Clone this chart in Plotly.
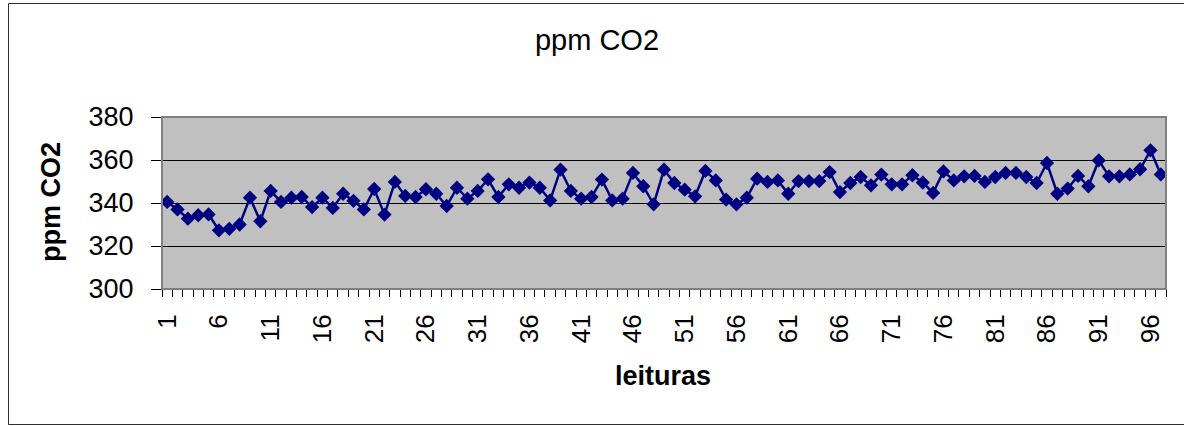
import plotly.graph_objects as go

leituras = list(range(1, 98))
ppm_co2 = [
    340.5, 337.0, 332.7, 334.3, 334.7, 327.3, 328.0, 330.0, 342.5, 331.5,
    345.6, 340.5, 342.5, 342.8, 338.1, 342.5, 337.7, 344.3, 341.0, 337.0,
    346.5, 334.6, 349.8, 343.3, 342.8, 346.4, 344.3, 338.6, 347.1, 342.0,
    345.6, 351.0, 342.8, 348.7, 347.1, 349.5, 347.1, 341.2, 355.5, 345.6,
    342.0, 342.8, 350.9, 341.2, 342.0, 354.0, 347.8, 339.4, 355.5, 349.3,
    346.2, 343.1, 354.9, 350.5, 341.6, 339.4, 342.5, 351.3, 349.8, 350.5,
    344.3, 350.2, 350.2, 350.2, 354.4, 345.1, 349.3, 352.1, 348.2, 353.2,
    348.7, 348.7, 352.9, 349.5, 344.7, 354.7, 350.5, 352.4, 352.6, 349.8,
    352.1, 354.0, 354.0, 352.1, 349.3, 358.6, 344.3, 346.7, 352.6, 347.8,
    359.8, 352.4, 352.4, 353.3, 355.7, 364.5, 353.3,
]
x_tick_vals = [1, 6, 11, 16, 21, 26, 31, 36, 41, 46, 51, 56, 61, 66, 71, 76, 81, 86, 91, 96]
x_tick_text = ["1", "6", "11", "16", "21", "26", "31", "36", "41", "46",
               "51", "56", "61", "66", "71", "76", "81", "86", "91", "96"]
y_tick_vals = [300, 320, 340, 360, 380]

W, H = 1184, 426
L, R, T, B = 162, 1166, 117, 289
pw, ph = R - L, B - T


def px(x):
    return (x - L) / pw


def py(y):
    return (B - y) / ph


fig = go.Figure()
fig.add_trace(go.Scatter(
    x=leituras, y=ppm_co2, mode="lines+markers",
    line=dict(color="#000080", width=2.5),
    marker=dict(symbol="diamond", size=11, color="#000080"),
    showlegend=False, hoverinfo="x+y",
))

fig.update_layout(
    width=W, height=H,
    margin=dict(l=L, r=W - R, t=T, b=H - B, pad=0),
    paper_bgcolor="white",
    plot_bgcolor="#C0C0C0",
    font=dict(family="Liberation Sans, Arial, sans-serif", color="black"),
    title=dict(text="ppm CO2", x=597 / W, xanchor="center", y=1 - 40 / H,
               yanchor="middle", font=dict(size=29, color="black")),
    xaxis=dict(
        range=[0.5, 97.5], tickmode="array", tickvals=x_tick_vals, ticktext=x_tick_text,
        tickangle=-90, ticks="", showgrid=False, zeroline=False,
        showline=True, linecolor="black", linewidth=1,
        tickfont=dict(size=26), ticklabelstandoff=14,
        minor=dict(tickmode="linear", tick0=0.5, dtick=1, ticks="outside",
                   ticklen=7, tickcolor="black", tickwidth=1, showgrid=False),
    ),
    yaxis=dict(
        range=[300, 380], tickmode="array", tickvals=y_tick_vals,
        ticks="outside", ticklen=10, tickcolor="black",
        showgrid=True, gridcolor="black", gridwidth=1, zeroline=False,
        showline=True, linecolor="black", linewidth=1,
        tickfont=dict(size=27), ticklabelstandoff=12,
    ),
    shapes=[
        dict(type="rect", xref="paper", yref="paper", x0=0, x1=1, y0=0, y1=1,
             line=dict(color="#808080", width=2), fillcolor="rgba(0,0,0,0)", layer="above"),
        dict(type="rect", xref="paper", yref="paper",
             x0=px(8.5), x1=px(1195), y0=py(424.5), y1=py(3.5),
             line=dict(color="#303030", width=1), fillcolor="rgba(0,0,0,0)"),
    ],
    annotations=[
        dict(text="<b>ppm CO2</b>", xref="paper", yref="paper", x=0, xshift=51 - L,
             y=py(202), xanchor="center", yanchor="middle", textangle=-90,
             showarrow=False, font=dict(size=27)),
        dict(text="<b>leituras</b>", xref="paper", yref="paper", x=px(663),
             y=py(376), xanchor="center", yanchor="middle",
             showarrow=False, font=dict(size=27)),
    ],
)

fig.write_html("out.html", config={"displayModeBar": False},
               post_script="document.body.style.margin='0';")
